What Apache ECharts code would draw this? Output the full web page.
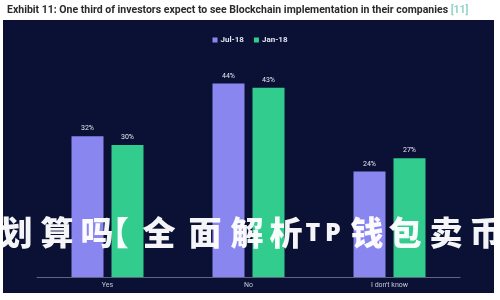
<!DOCTYPE html>
<html>
<head>
<meta charset="utf-8">
<script src="https://cdn.jsdelivr.net/npm/echarts@6/dist/echarts.min.js"></script>
<style>
html,body{margin:0;padding:0;background:#fff;}
#wrap{position:relative;width:500px;height:300px;overflow:hidden;}
#chart{position:absolute;left:0;top:0;width:500px;height:300px;}
#wm{position:absolute;left:0;top:211px;width:500px;height:42px;color:rgba(255,255,255,0.96);
 font-family:"Noto Sans CJK SC";font-weight:900;font-size:33px;line-height:40px;pointer-events:none;}
#wm span{position:absolute;top:0;width:44px;text-align:center;white-space:nowrap;}
#wm span.l{font-family:"Noto Sans";font-size:25px;font-weight:900;width:20px;}
</style>
</head>
<body>
<div id="wrap">
<div id="chart"></div>
<div id="wm"><span style="left:-6px">划</span><span style="left:35px">算</span><span style="left:75px">吗</span><span style="left:96px;text-align:left">【</span><span style="left:137px">全</span><span style="left:183px">面</span><span style="left:225px">解</span><span style="left:264px">析</span><span class="l" style="left:303px">T</span><span class="l" style="left:323px">P</span><span style="left:345px">钱</span><span style="left:383px">包</span><span style="left:424px">卖</span><span style="left:464px">币</span></div>
</div>
<script>
const categories = ['Yes', 'No', "I don't know"];
const seriesNames = ['Jul-18', 'Jan-18'];
const jul18 = [32, 44, 24];
const jan18 = [30, 43, 27];
const titleText = 'Exhibit 11: One third of investors expect to see Blockchain implementation in their companies';
const refText = '[11]';

const chart = echarts.init(document.getElementById('chart'));
const labelCfg = {
  show: true, position: 'top', distance: 4,
  formatter: p => p.value + '%',
  color: '#e4e6f2', fontSize: 7, fontFamily: 'Roboto'
};
chart.setOption({
  backgroundColor: '#ffffff',
  animation: false,
  title: {
    text: titleText + ' {r|' + refText + '}',
    left: 2, top: 0,
    textStyle: {
      fontFamily: 'Roboto', fontWeight: 'bold', fontSize: 10.5, color: '#2a2a2a',
      rich: { r: { color: '#8fd3c8', fontSize: 10.5, fontFamily: 'Roboto' } }
    }
  },
  graphic: [{
    type: 'rect', z: -10, silent: true,
    shape: { x: 3, y: 20, width: 491, height: 273 },
    style: { fill: '#0a1135' }
  }],
  legend: {
    data: seriesNames, top: 31, left: 'center',
    icon: 'rect', itemWidth: 5, itemHeight: 5, itemGap: 10,
    textStyle: { color: '#e2e4f2', fontSize: 8, fontWeight: 'bold', fontFamily: 'Roboto', padding: [0, 0, 0, -2] }
  },
  grid: { left: 37, right: 40, top: 57, bottom: 23 },
  xAxis: {
    type: 'category', data: categories,
    axisLine: { lineStyle: { color: '#5f6580', width: 1 } },
    axisTick: { show: false },
    axisLabel: { color: '#c6c9da', fontSize: 7, margin: 5, fontFamily: 'Roboto' }
  },
  yAxis: { type: 'value', min: 0, max: 50, show: false, splitLine: { show: false } },
  series: [
    { name: seriesNames[0], type: 'bar', data: jul18, barWidth: 32, barGap: '25%',
      itemStyle: { color: '#8a86ef' }, label: labelCfg },
    { name: seriesNames[1], type: 'bar', data: jan18, barWidth: 32,
      itemStyle: { color: '#32cd8e' }, label: labelCfg }
  ]
});
</script>
</body>
</html>
